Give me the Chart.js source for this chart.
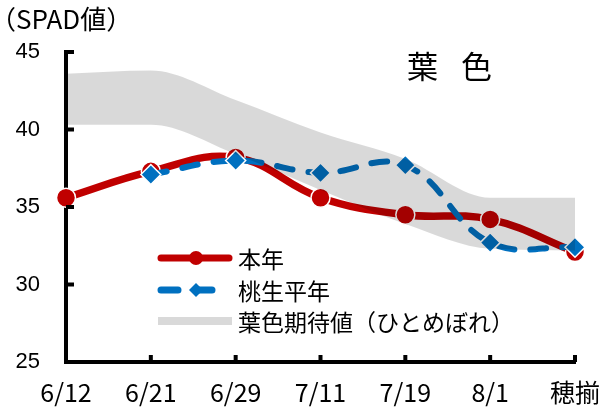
<!DOCTYPE html>
<html>
<head>
<meta charset="utf-8">
<script src="https://cdn.jsdelivr.net/npm/chart.js@4"></script>
<style>
  html, body { margin: 0; padding: 0; background: #fff; }
  #wrap { width: 616px; height: 408px; position: relative; }
</style>
</head>
<body>
<div id="wrap"><canvas id="leafChart"></canvas></div>
<script>
// Data
const labels = ["6/12", "6/21", "6/29", "7/11", "7/19", "8/1", "穂揃"];
const thisYear = [35.6, 37.3, 38.2, 35.6, 34.5, 34.2, 32.1];
const normalYear = [null, 37.1, 38.0, 37.2, 37.7, 32.7, 32.4];
const bandUpper = [43.6, 43.8, 41.9, 39.8, 38.1, 35.6, 35.6];
const bandLower = [40.3, 40.3, 38.4, 36.1, 33.9, 32.3, 32.2];
const seriesNames = ["本年", "桃生平年", "葉色期待値（ひとめぼれ）"];
const yTicks = [25, 30, 35, 40, 45];

const RED = "#c00000";
const BLUE = "#0070c0";
const GRAY = "#d9d9d9";
const JP = "'Noto Sans CJK JP', 'Noto Sans', sans-serif";

// inner ticks, titles and legend
const decor = {
  id: "decor",
  afterDraw(chart) {
    const { ctx, chartArea: a, scales: { x, y } } = chart;
    ctx.save();
    ctx.strokeStyle = "#000";
    ctx.lineWidth = 4;
    ctx.beginPath();
    x.ticks.forEach((t, i) => {
      if (i === 0) return;
      const px = x.getPixelForTick(i);
      ctx.moveTo(px, a.bottom);
      ctx.lineTo(px, a.bottom - 7);
    });
    y.ticks.forEach((t, i) => {
      const py = y.getPixelForTick(i);
      ctx.moveTo(a.left, py);
      ctx.lineTo(a.left + 8, py);
    });
    ctx.stroke();

    // axis unit + panel title
    ctx.fillStyle = "#000";
    ctx.textBaseline = "middle";
    ctx.textAlign = "left";
    ctx.font = "26px " + JP;
    ctx.fillText("（SPAD値）", -10, 19);
    ctx.font = "31px " + JP;
    ctx.fillText("葉", 407, 66);
    ctx.fillText("色", 461, 66);

    // legend
    const lx0 = 158, lx1 = 232, tx = 238;
    const rows = [258, 290, 321];
    ctx.lineCap = "round";
    // 本年
    ctx.strokeStyle = RED;
    ctx.lineWidth = 7;
    ctx.beginPath(); ctx.moveTo(lx0 + 3, rows[0]); ctx.lineTo(lx1 - 3, rows[0]); ctx.stroke();
    ctx.fillStyle = RED;
    ctx.beginPath(); ctx.arc(196, rows[0], 7, 0, Math.PI * 2); ctx.fill();
    // 桃生平年
    ctx.strokeStyle = BLUE;
    ctx.lineWidth = 7;
    ctx.setLineDash([17, 17]);
    ctx.beginPath(); ctx.moveTo(lx0 + 3, rows[1]); ctx.lineTo(lx1 - 3, rows[1]); ctx.stroke();
    ctx.setLineDash([]);
    ctx.fillStyle = BLUE;
    ctx.beginPath();
    ctx.moveTo(196 - 7, rows[1]); ctx.lineTo(196, rows[1] - 7);
    ctx.lineTo(196 + 7, rows[1]); ctx.lineTo(196, rows[1] + 7);
    ctx.closePath(); ctx.fill();
    // band
    ctx.fillStyle = GRAY;
    ctx.fillRect(lx0, rows[2] - 4, lx1 - lx0, 8);

    ctx.fillStyle = "#000";
    ctx.font = "23px " + JP;
    seriesNames.forEach((n, i) => ctx.fillText(n, tx, rows[i] + 1));
    ctx.restore();
  }
};

new Chart(document.getElementById("leafChart"), {
  type: "line",
  data: {
    labels,
    datasets: [
      {
        label: seriesNames[2],
        data: bandUpper,
        order: 0,
        fill: "+1",
        backgroundColor: "rgba(0,0,0,0.15)",
        borderWidth: 0,
        borderColor: "rgba(0,0,0,0)",
        pointRadius: 0,
        cubicInterpolationMode: "monotone"
      },
      {
        label: "lower",
        data: bandLower,
        order: 1,
        fill: false,
        borderWidth: 0,
        borderColor: "rgba(0,0,0,0)",
        pointRadius: 0,
        cubicInterpolationMode: "monotone"
      },
      {
        label: seriesNames[1],
        data: normalYear,
        order: 2,
        borderColor: BLUE,
        borderWidth: 6,
        borderDash: [16, 16],
        borderCapStyle: "round",
        tension: 0.4,
        pointStyle: "rectRot",
        pointRadius: 10,
        pointBackgroundColor: BLUE,
        pointBorderColor: "#fff",
        pointBorderWidth: 1.5,
        clip: false
      },
      {
        label: seriesNames[0],
        data: thisYear,
        order: 3,
        borderColor: RED,
        borderWidth: 7.5,
        tension: 0.4,
        pointStyle: "circle",
        pointRadius: 9.5,
        pointBackgroundColor: RED,
        pointBorderColor: "#fff",
        pointBorderWidth: 1.5,
        clip: false
      }
    ]
  },
  options: {
    responsive: true,
    maintainAspectRatio: false,
    animation: false,
    layout: { padding: { left: 10, right: 41, top: 52, bottom: 0 } },
    plugins: {
      legend: { display: false },
      tooltip: { enabled: false }
    },
    scales: {
      x: {
        offset: false,
        afterFit: (s) => { s.height = 46; },
        grid: { display: false, drawTicks: false },
        border: { color: "#000", width: 4 },
        ticks: { color: "#000", padding: 15, maxRotation: 0, font: { family: JP, size: 25 } }
      },
      y: {
        min: yTicks[0],
        max: yTicks[yTicks.length - 1],
        afterBuildTicks: (s) => { s.ticks = yTicks.map(v => ({ value: v })); },
        afterFit: (s) => { s.width = 56; },
        grid: { display: false, drawTicks: false },
        border: { color: "#000", width: 4 },
        ticks: { color: "#000", padding: 26, font: { family: "'Liberation Sans', Arial, sans-serif", size: 22 } }
      }
    }
  },
  plugins: [decor]
});
</script>
</body>
</html>
